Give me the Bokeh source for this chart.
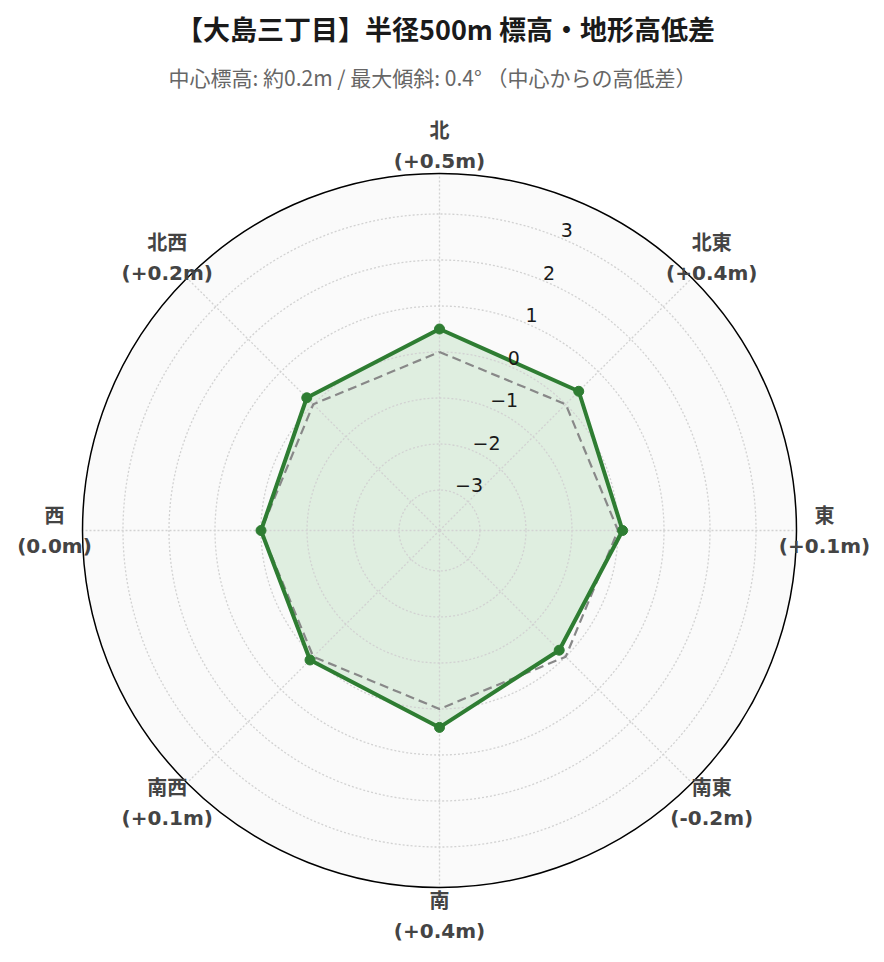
import numpy as np
from bokeh.plotting import figure
from bokeh.models import Range1d, Label
from bokeh.core.properties import value
from bokeh.embed import file_html
from bokeh.resources import INLINE

# ---------------- data ----------------
title_text = "【大島三丁目】半径500m 標高・地形高低差"
subtitle_text = "中心標高: 約0.2m / 最大傾斜: 0.4° （中心からの高低差）"
directions = ["北", "北東", "東", "南東", "南", "南西", "西", "北西"]
bearings = [0, 45, 90, 135, 180, 225, 270, 315]
height_diff = [0.5, 0.4, 0.1, -0.2, 0.4, 0.1, 0.0, 0.2]
reference = [0.0, 0.0, 0.0, 0.0, 0.0, 0.0, 0.0, 0.0]
radial_ticks = [-3, -2, -1, 0, 1, 2, 3]
radial_tick_labels = ["−3", "−2", "−1", "0", "1", "2", "3"]
r_min, r_max = -3.88, 3.88
radial_label_bearing = 22.5

diff_labels = [(f"({d:+.1f}m)" if d != 0 else f"({d:.1f}m)") for d in height_diff]

# ---------------- layout ----------------
W, H = 884, 962
CX, CY = 439, 530          # polar centre, canvas px (from top-left)
R_PX = 357                 # outer radius in px
s = R_PX / (r_max - r_min) # px per unit
R = r_max - r_min
LABEL_R = 385 / s

p = figure(width=W, height=H, output_backend="svg", toolbar_location=None,
           x_range=Range1d(-CX / s, (W - CX) / s),
           y_range=Range1d(-(H - CY) / s, CY / s),
           min_border=0, x_axis_type=None, y_axis_type=None)
p.grid.visible = False
p.outline_line_color = None
p.background_fill_color = "white"
p.border_fill_color = "white"


def polar(vals, bears, offset=r_min):
    th = np.radians(bears)
    r = np.asarray(vals, dtype=float) - offset
    return r * np.sin(th), r * np.cos(th)


# polar background
p.circle(x=[0], y=[0], radius=R, fill_color="#fafafa", line_color=None)

# data fill
x, y = polar(height_diff, bearings)
p.patch(list(x), list(y), fill_color="#4caf50", fill_alpha=0.15, line_color=None)

# grid circles
p.circle(x=[0] * len(radial_ticks), y=[0] * len(radial_ticks),
         radius=[t - r_min for t in radial_ticks],
         fill_color=None, line_color="#d2d2d2", line_width=1.3, line_dash="2 2")
# spokes
th = np.radians(bearings)
p.segment(x0=[0] * len(bearings), y0=[0] * len(bearings),
          x1=list(R * np.sin(th)), y1=list(R * np.cos(th)),
          line_color="#d2d2d2", line_width=1.3, line_dash="2 2")

# reference (0 m) dashed line
rx, ry = polar(reference, bearings)
p.line(list(rx) + [rx[0]], list(ry) + [ry[0]], line_color="#888888",
       line_width=2.2, line_dash="9 5")

# data line + markers
p.line(list(x) + [x[0]], list(y) + [y[0]], line_color="#2e7d32", line_width=4,
       line_join="round")
p.scatter(list(x), list(y), size=10, fill_color="#2e7d32", line_color="#2e7d32")

# outer circle
p.circle(x=[0], y=[0], radius=R, fill_color=None, line_color="black", line_width=1.5)

# radial tick labels
tx, ty = polar(radial_ticks, [radial_label_bearing] * len(radial_ticks))
p.text(list(tx), list(ty), text=radial_tick_labels,
       text_font=value("DejaVu Sans"), text_font_size="19px",
       text_color="#1a1a1a", text_align="left", text_baseline="middle",
       x_offset=0, y_offset=-8)

# angular labels
lx = LABEL_R * np.sin(th)
ly = LABEL_R * np.cos(th)
font_lbl = value("DejaVu Sans, Noto Sans CJK JP")
p.text(list(lx), list(ly), text=directions, text_font=font_lbl,
       text_font_size="20px", text_font_style="bold", text_color="#444444",
       text_align="center", text_baseline="middle", y_offset=-15)
p.text(list(lx), list(ly), text=diff_labels, text_font=font_lbl,
       text_font_size="20px", text_font_style="bold", text_color="#444444",
       text_align="center", text_baseline="middle", y_offset=15)

# titles
p.add_layout(Label(x=445, y=H - 28, x_units="screen", y_units="screen",
                   text=title_text, text_font="Noto Sans CJK JP",
                   text_font_size="27px", text_font_style="bold",
                   text_color="#1a1a1a", text_align="center",
                   text_baseline="middle"))
p.add_layout(Label(x=432, y=H - 76, x_units="screen", y_units="screen",
                   text=subtitle_text, text_font="Noto Sans CJK JP",
                   text_font_size="21px", text_color="#666666",
                   text_align="center", text_baseline="middle"))

open("out.html", "w").write(file_html(p, INLINE))
